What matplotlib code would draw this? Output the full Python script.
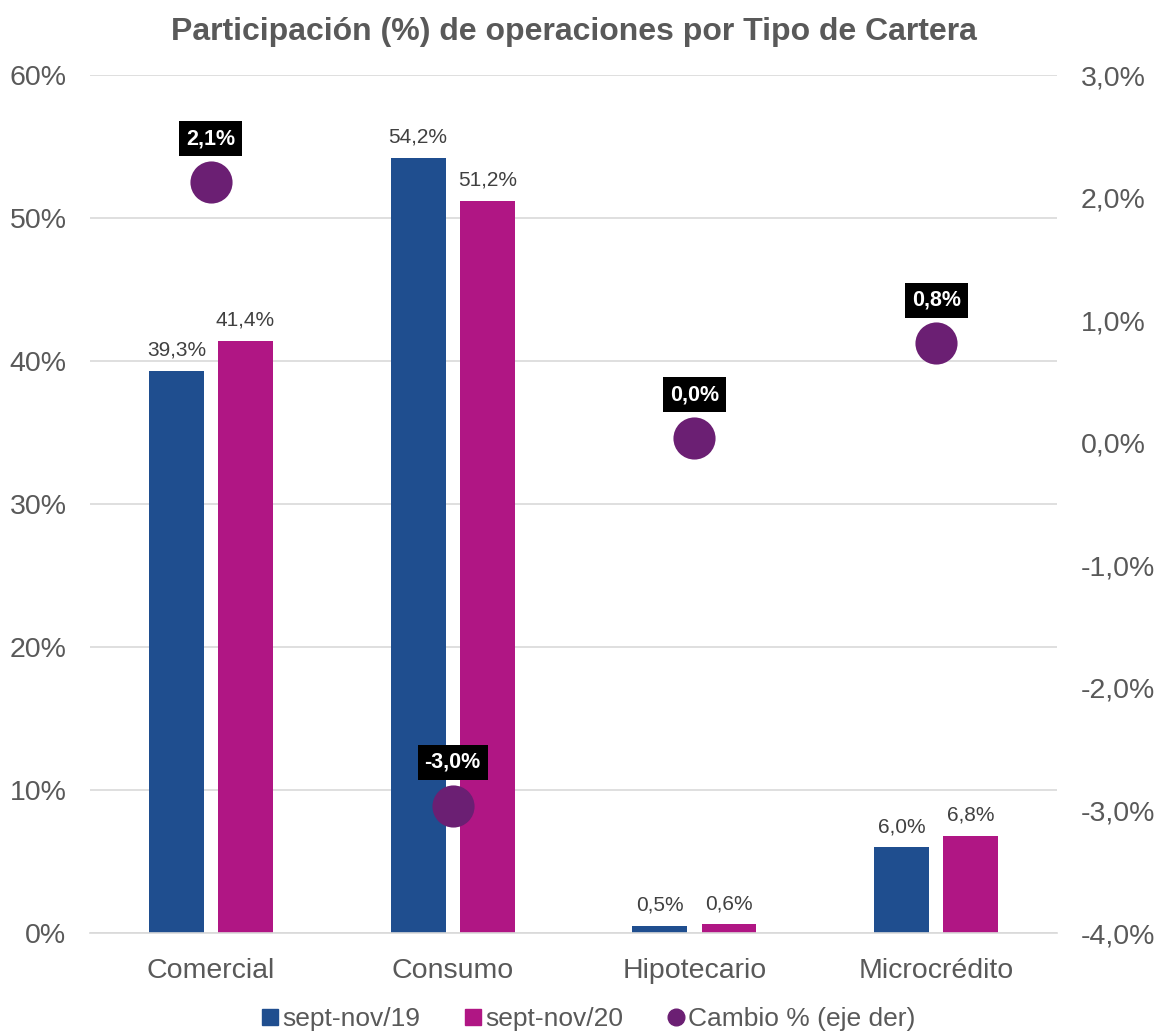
import matplotlib
matplotlib.use("Agg")
import matplotlib.pyplot as plt
from matplotlib.lines import Line2D
import numpy as np

plt.rcParams['font.family'] = ['Liberation Sans', 'DejaVu Sans']

categorias = ['Comercial', 'Consumo', 'Hipotecario', 'Microcrédito']
sep_nov_19 = [39.3, 54.2, 0.5, 6.0]
sep_nov_20 = [41.4, 51.2, 0.6, 6.8]
cambio = [2.13, -2.96, 0.04, 0.81]

azul = '#1f4e8f'
rosa = '#b01684'
morado = '#6b1f73'
gris = '#595959'

def pct(v):
    return f"{v:.1f}%".replace('.', ',')

fig = plt.figure(figsize=(11.59, 10.36), dpi=100)
ax = fig.add_axes([0.0777, 0.0994, 0.8343, 0.8282])
ax2 = ax.twinx()

x = np.arange(len(categorias))
w = 0.227
off = 0.143
b1 = ax.bar(x - off, sep_nov_19, w, color=azul, zorder=2)
b2 = ax.bar(x + off, sep_nov_20, w, color=rosa, zorder=2)
for bars, vals in ((b1, sep_nov_19), (b2, sep_nov_20)):
    for r, v in zip(bars, vals):
        ax.annotate(pct(v), (r.get_x() + r.get_width() / 2, v), xytext=(0, 8),
                    textcoords='offset points', ha='center', va='bottom',
                    fontsize=15, color='#404040')

ax.set_xlim(-0.5, 3.5)
ax.set_ylim(0, 60)
ax.set_yticks(range(0, 61, 10))
ax.set_yticklabels([f"{t}%" for t in range(0, 61, 10)])
ax.yaxis.grid(True, color='#d9d9d9', linewidth=1.2, zorder=0)
ax.set_axisbelow(True)
ax.set_xticks(x)
ax.set_xticklabels(categorias)
ax.tick_params(axis='both', length=0, labelsize=20.5, colors=gris, pad=17)
ax.tick_params(axis='x', pad=18)
for s in ['top', 'left', 'right']:
    ax.spines[s].set_visible(False)
ax.spines['bottom'].set_color('#d9d9d9')
ax.spines['bottom'].set_linewidth(1.2)

ax2.scatter(x, cambio, s=920, color=morado, zorder=3, linewidths=0)
for xi, v in zip(x, cambio):
    ax2.annotate(pct(v), (xi, v), xytext=(0, 31), textcoords='offset points',
                 ha='center', va='center', fontsize=15.5, fontweight='bold',
                 color='white', zorder=4,
                 bbox=dict(boxstyle='square,pad=0.32', fc='black', ec='none'))
ax2.set_ylim(-4, 3)
ax2.set_yticks(range(-4, 4))
ax2.set_yticklabels([f"{t:.1f}%".replace('.', ',') for t in range(-4, 4)])
ax2.tick_params(axis='y', length=0, labelsize=20.5, colors=gris, pad=17)
for s in ax2.spines.values():
    s.set_visible(False)

ax.set_title('Participación (%) de operaciones por Tipo de Cartera',
             fontsize=23, fontweight='bold', color=gris, pad=25)

handles = [
    Line2D([], [], marker='s', linestyle='none', color=azul, markersize=11),
    Line2D([], [], marker='s', linestyle='none', color=rosa, markersize=11),
    Line2D([], [], marker='o', linestyle='none', color=morado, markersize=12),
]
fig.legend(handles, ['sept-nov/19', 'sept-nov/20', 'Cambio % (eje der)'],
           loc='center', bbox_to_anchor=(0.508, 0.016), ncol=3, frameon=False,
           fontsize=19, labelcolor=gris, handlelength=0.6, handletextpad=0.15,
           columnspacing=1.7)

fig.savefig('out.png', dpi=100)
